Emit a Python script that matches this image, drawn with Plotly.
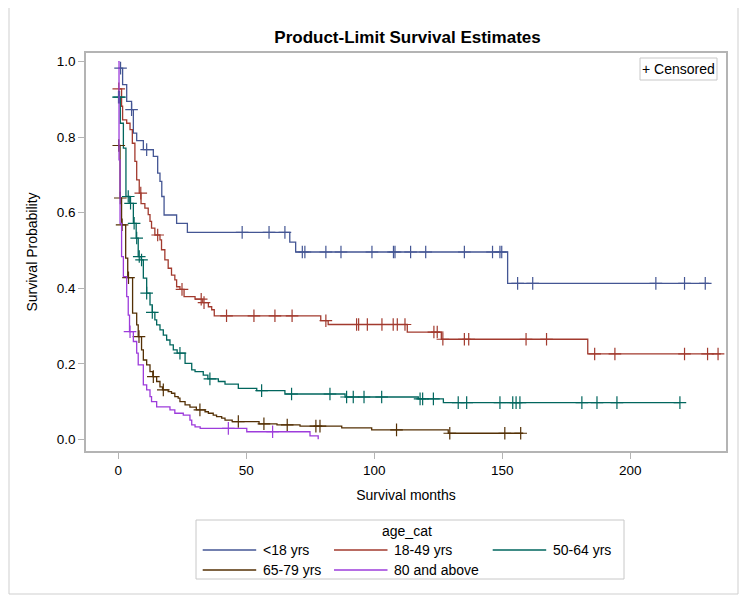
import numpy as np
import plotly.graph_objects as go

# ---------------- data ----------------
group_names = ["<18 yrs", "18-49 yrs", "50-64 yrs", "65-79 yrs", "80 and above"]
group_colors = ["#445694", "#A23A2E", "#01665E", "#543005", "#9D3CDB"]

# step start times and survival after each step
t_g1 = [0, 1.7, 3.3, 5.2, 5.9, 7.2, 9.8, 13.7, 15.4, 16.3, 17.0, 17.9, 22.8, 27.0, 67.0, 69.3, 152.1]
s_g1 = [0.983, 0.939, 0.895, 0.873, 0.811, 0.791, 0.767, 0.749, 0.705, 0.683, 0.643, 0.594, 0.572, 0.548, 0.522, 0.496, 0.413]
end_g1 = 230.7
cens_g1 = [0.9, 5.2, 11.1, 48.4, 58.9, 65.1, 71.9, 72.9, 81.1, 87.0, 99.1, 107.5, 108.1, 114.2, 120.1,
           135.2, 146.2, 149.1, 149.8, 156.0, 161.9, 210.0, 221.2, 229.3]

t_g2 = [0, 1.3, 1.7, 3.3, 4.6, 5.5, 6.5, 7.2, 8.2, 8.9, 10.4, 11.7, 12.4, 13.0, 14.3, 16.3, 16.9, 18.2,
        19.5, 20.8, 22.1, 22.8, 24.1, 25.7, 30.0, 33.0, 35.2, 36.5, 37.5, 79.1, 82.0, 112.9, 126.2, 183.4]
s_g2 = [0.928, 0.882, 0.846, 0.837, 0.820, 0.784, 0.736, 0.687, 0.652, 0.624, 0.612, 0.595, 0.577, 0.559,
        0.541, 0.528, 0.502, 0.475, 0.453, 0.435, 0.422, 0.404, 0.397, 0.378, 0.371, 0.362, 0.351, 0.343,
        0.327, 0.314, 0.304, 0.284, 0.265, 0.226]
end_g2 = 235.4
cens_g2 = [0.2, 8.8, 15.4, 24.9, 32.4, 33.5, 42.3, 53.0, 61.2, 67.9, 81.1, 93.1, 93.9, 97.3, 103.0, 107.4,
           109.0, 112.0, 123.3, 124.6, 126.8, 135.2, 136.9, 159.3, 167.3, 186.1, 194.0, 221.2, 230.2, 234.3]

t_g3 = [0, 0.8, 2.0, 3.0, 4.5, 5.9, 7.0, 7.8, 9.0, 9.8, 11.1, 12.4, 13.3, 14.3, 15.0, 16.3, 17.6, 18.9,
        20.2, 21.5, 23.0, 26.1, 28.7, 30.0, 33.2, 35.0, 39.1, 41.7, 46.9, 54.1, 65.1, 88.6, 117.2, 127.0]
s_g3 = [0.906, 0.837, 0.771, 0.643, 0.625, 0.572, 0.533, 0.484, 0.475, 0.427, 0.387, 0.356, 0.336, 0.316,
        0.303, 0.290, 0.276, 0.263, 0.250, 0.237, 0.228, 0.201, 0.184, 0.179, 0.170, 0.160, 0.153, 0.146,
        0.135, 0.129, 0.120, 0.112, 0.107, 0.097]
end_g3 = 219.4
cens_g3 = [0.1, 0.5, 3.9, 4.8, 6.2, 7.2, 8.2, 9.1, 11.1, 13.3, 24.1, 35.8, 56.0, 67.7, 82.7, 89.2, 91.8,
           96.0, 102.9, 117.9, 118.9, 123.1, 132.8, 136.1, 149.1, 154.1, 155.4, 156.9, 181.1, 187.0,
           194.8, 219.4]

t_g4 = [0, 0.7, 1.3, 2.9, 3.7, 5.6, 7.2, 7.8, 9.1, 9.8, 11.1, 12.4, 13.5, 15.0, 16.3, 17.3, 19.5, 20.8,
        22.1, 23.4, 24.1, 26.1, 28.0, 30.5, 33.9, 35.2, 37.1, 38.4, 40.4, 41.7, 44.5, 55.0, 62.0, 71.0,
        87.3, 99.0, 128.9]
s_g4 = [0.778, 0.639, 0.568, 0.480, 0.428, 0.334, 0.303, 0.272, 0.237, 0.210, 0.197, 0.179, 0.166, 0.153,
        0.139, 0.131, 0.126, 0.122, 0.113, 0.109, 0.100, 0.091, 0.085, 0.078, 0.073, 0.069, 0.064, 0.060,
        0.056, 0.051, 0.047, 0.041, 0.038, 0.035, 0.030, 0.025, 0.016]
end_g4 = 158.2
cens_g4 = [0.2, 0.8, 1.5, 4.0, 8.1, 13.7, 17.6, 31.9, 46.9, 56.9, 66.0, 77.2, 78.8, 108.7, 129.5, 151.0, 157.2]

t_g5 = [0, 0.3, 0.7, 1.3, 2.0, 3.3, 3.9, 4.4, 5.9, 7.2, 7.8, 9.8, 11.1, 12.4, 13.0, 15.0, 20.2, 22.1,
        25.4, 28.0, 28.7, 30.0, 32.0, 50.2, 74.9, 78.1]
s_g5 = [1.0, 0.740, 0.572, 0.484, 0.431, 0.378, 0.329, 0.285, 0.259, 0.228, 0.197, 0.144, 0.131, 0.113,
        0.100, 0.086, 0.078, 0.069, 0.064, 0.051, 0.038, 0.033, 0.029, 0.020, 0.009, 0.0]
end_g5 = 78.1
cens_g5 = [4.6, 43.0, 60.3]

all_t = [t_g1, t_g2, t_g3, t_g4, t_g5]
all_s = [s_g1, s_g2, s_g3, s_g4, s_g5]
all_end = [end_g1, end_g2, end_g3, end_g4, end_g5]
all_cens = [cens_g1, cens_g2, cens_g3, cens_g4, cens_g5]

x_ticks = [0, 50, 100, 150, 200]
y_ticks = [0.0, 0.2, 0.4, 0.6, 0.8, 1.0]

# ---------------- figure ----------------
FONT = "Liberation Sans, Arial, sans-serif"
fig = go.Figure()

for name, col, tt, ss, te, cc in zip(group_names, group_colors, all_t, all_s, all_end, all_cens):
    xs = list(tt) + [te]
    ys = list(ss) + [ss[-1]]
    fig.add_trace(go.Scatter(x=xs, y=ys, mode="lines", line=dict(color=col, width=1.3, shape="hv"),
                             name=name, showlegend=False, hoverinfo="skip"))
    idx = np.searchsorted(np.array(tt), np.array(cc), side="right") - 1
    cy = np.array(ss)[np.clip(idx, 0, len(ss) - 1)]
    fig.add_trace(go.Scatter(x=cc, y=cy, mode="markers",
                             marker=dict(symbol="cross-thin", size=9, line=dict(color=col, width=1.2)),
                             name=name + " censored", showlegend=False, hoverinfo="skip"))

# page offset (browser body margin)
OFF = 8
W, H = 749, 601
# plot area in screen pixels: x 86..726, y 53..451
L = 86 - OFF
T = 53 - OFF
R = W - (726 - OFF)
B = H - (451 - OFF)
pw, ph = W - L - R, H - T - B

def px(x):
    return (x - OFF - L) / pw

def py(y):
    return (H - B - (y - OFF)) / ph

shapes = []
annotations = []

# outer frame
shapes.append(dict(type="rect", xref="paper", yref="paper", x0=px(9), x1=px(738), y0=py(594), y1=py(7),
                   line=dict(color="#cfcfcf", width=1)))

# censored inset box
shapes.append(dict(type="rect", xref="paper", yref="paper", x0=px(640), x1=px(717), y0=py(80), y1=py(58),
                   line=dict(color="#c8c8c8", width=1), fillcolor="white"))
annotations.append(dict(xref="paper", yref="paper", x=px(678.5), y=py(69), text="+ Censored",
                        showarrow=False, xanchor="center", yanchor="middle",
                        font=dict(family=FONT, size=14, color="#000")))

# group legend box
shapes.append(dict(type="rect", xref="paper", yref="paper", x0=px(196), x1=px(624), y0=py(579), y1=py(520),
                   line=dict(color="#c8c8c8", width=1)))
annotations.append(dict(xref="paper", yref="paper", x=px(407), y=py(530.5), text="age_cat",
                        showarrow=False, xanchor="center", yanchor="middle",
                        font=dict(family=FONT, size=14, color="#000")))
leg_pos = [(202.7, 550), (334, 550), (492.7, 550), (202.7, 570), (334, 570)]
for (lx, ly), name, col in zip(leg_pos, group_names, group_colors):
    shapes.append(dict(type="line", xref="paper", yref="paper", x0=px(lx), x1=px(lx + 53.5),
                       y0=py(ly), y1=py(ly), line=dict(color=col, width=1.3)))
    annotations.append(dict(xref="paper", yref="paper", x=px(lx + 58), y=py(ly), text=name,
                            showarrow=False, xanchor="left", yanchor="middle",
                            font=dict(family=FONT, size=14, color="#000")))

fig.update_layout(
    width=W, height=H,
    margin=dict(l=L, r=R, t=T, b=B, autoexpand=False),
    paper_bgcolor="white", plot_bgcolor="white",
    title=dict(text="<b>Product-Limit Survival Estimates</b>", x=px(407.5), xref="paper", xanchor="center",
               y=1 - (37 - OFF) / H, yanchor="middle", font=dict(family=FONT, size=17, color="#000")),
    shapes=shapes, annotations=annotations,
    showlegend=False,
    font=dict(family=FONT, size=14, color="#000"),
)
fig.update_xaxes(range=[-12.6, 237.4], tickvals=x_ticks, ticktext=[str(v) for v in x_ticks],
                 showgrid=False, zeroline=False, showline=True, mirror=True, linecolor="#b4b4b4", linewidth=1.5,
                 ticks="outside", ticklen=6, tickcolor="#b4b4b4", tickwidth=1,
                 tickfont=dict(family=FONT, size=13.5, color="#000"),
                 title=dict(text="Survival months", standoff=13, font=dict(family=FONT, size=14, color="#000")))
fig.update_yaxes(range=[-0.031, 1.023], tickvals=y_ticks, ticktext=[f"{v:.1f}" for v in y_ticks],
                 showgrid=False, zeroline=False, showline=True, mirror=True, linecolor="#b4b4b4", linewidth=1.5,
                 ticks="outside", ticklen=6, tickcolor="#b4b4b4", tickwidth=1,
                 tickfont=dict(family=FONT, size=13.5, color="#000"),
                 title=dict(text="Survival Probability", standoff=16, font=dict(family=FONT, size=14, color="#000")))

fig.write_html("out.html")
